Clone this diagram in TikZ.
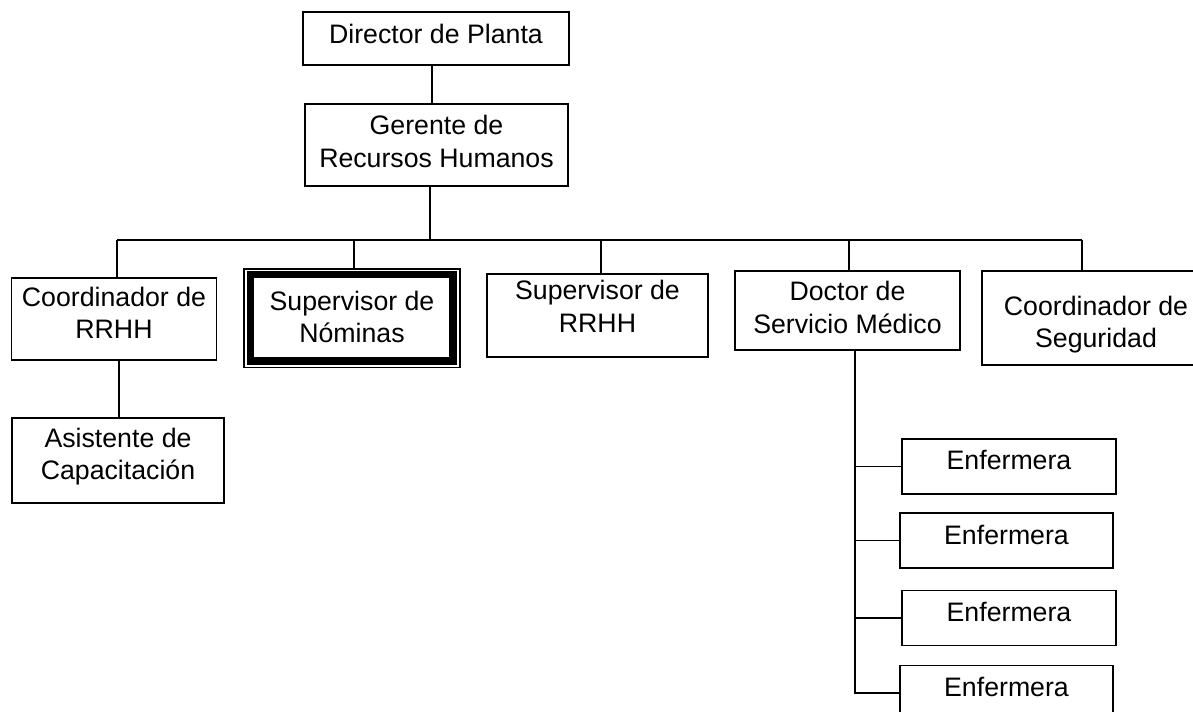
\documentclass[tikz,border=0pt]{standalone}
\usepackage{fontspec}
\setmainfont{Liberation Sans}
\usetikzlibrary{calc}
\begin{document}
\begin{tikzpicture}[x=0.02cm,y=-0.02cm,
  box/.style 2 args={draw, line width=1.1pt, minimum width=#1*0.02cm, minimum height=#2*0.02cm, inner sep=0pt},
  txt/.style={align=center, font=\fontsize{15.2pt}{18.3pt}\selectfont, inner sep=0pt},
  conn/.style={line width=1.1pt}]
\clip (0,0) rectangle (1193,712);
% boxes
\node[box={266}{53}] (dir) at (436,38.5) {};
\node[box={263}{82}] (ger) at (436.5,145) {};
\node[box={205}{82}] (coord) at (114,319) {};
\node[box={212}{85}] (asist) at (118,460.5) {};
\node[box={216}{98.5}] (nom) at (352,318.25) {};
\node[box={221}{83}] (sup) at (597.5,315.5) {};
\node[box={225}{79}] (doc) at (847.5,310.5) {};
\node[box={228}{94}] (seg) at (1096,318) {};
\node[box={214}{55}] (enf1) at (1009,466.5) {};
\node[box={213}{55}] (enf2) at (1006.5,540.5) {};
\node[box={214}{55}] (enf3) at (1009,618) {};
\node[box={213}{55}] (enf4) at (1006.5,693) {};
% thick inner border of Supervisor de Nominas
\draw[line width=4.2pt] ([shift={(0.15cm,-0.13cm)}]nom.north west) rectangle ([shift={(-0.16cm,0.15cm)}]nom.south east);
% texts
\node[txt] (tdir) at (436,33.5) {Director de Planta};
\node[txt] (tger) at (436.5,141.5) {Gerente de\\Recursos Humanos};
\node[txt] (tcoord) at (114,312.5) {Coordinador de\\RRHH};
\node[txt] (tasist) at (118,456.4) {Asistente de\\Capacitación};
\node[txt] (tnom) at (352,316.7) {Supervisor de\\Nóminas};
\node[txt] (tsup) at (597.5,306.3) {Supervisor de\\RRHH};
\node[txt] (tdoc) at (847.5,307.5) {Doctor de\\Servicio Médico};
\node[txt] (tseg) at (1096,325) {Coordinador de\\Seguridad};
\node[txt] (tenf1) at (1009,459.7) {Enfermera};
\node[txt] (tenf2) at (1006.5,535.3) {Enfermera};
\node[txt] (tenf3) at (1009,612) {Enfermera};
\node[txt] (tenf4) at (1006.5,687) {Enfermera};
% connectors
\draw[conn] ([xshift=-0.086cm]dir.south) -- ([xshift=-0.086cm]dir.south |- ger.north);
\coordinate (bus) at (430,240);
\coordinate (busL) at (117,240);
\coordinate (busR) at (1082,240);
\draw[conn] (bus |- ger.south) -- (bus);
\draw[conn] (busL) -- (busR);
\draw[conn] (busL) -- (busL |- coord.north);
\draw[conn] (busR) -- (busR |- seg.north);
\draw[conn] ([xshift=0.046cm]nom.north) -- ([xshift=0.046cm]nom.north |- busL);
\draw[conn] ([xshift=0.07cm]sup.north) -- ([xshift=0.07cm]sup.north |- busL);
\draw[conn] ([xshift=0.03cm]doc.north) -- ([xshift=0.03cm]doc.north |- busL);
\draw[conn] ([xshift=0.1cm]coord.south) -- ([xshift=0.1cm]coord.south |- asist.north);
\coordinate (sp) at ([xshift=0.15cm]doc.south);
\draw[conn] (sp) -- (sp |- enf4.west) -- (enf4.west);
\draw[conn] (sp |- enf1.west) -- (enf1.west);
\draw[conn] (sp |- enf2.west) -- (enf2.west);
\draw[conn] (sp |- enf3.west) -- (enf3.west);
\end{tikzpicture}
\end{document}
